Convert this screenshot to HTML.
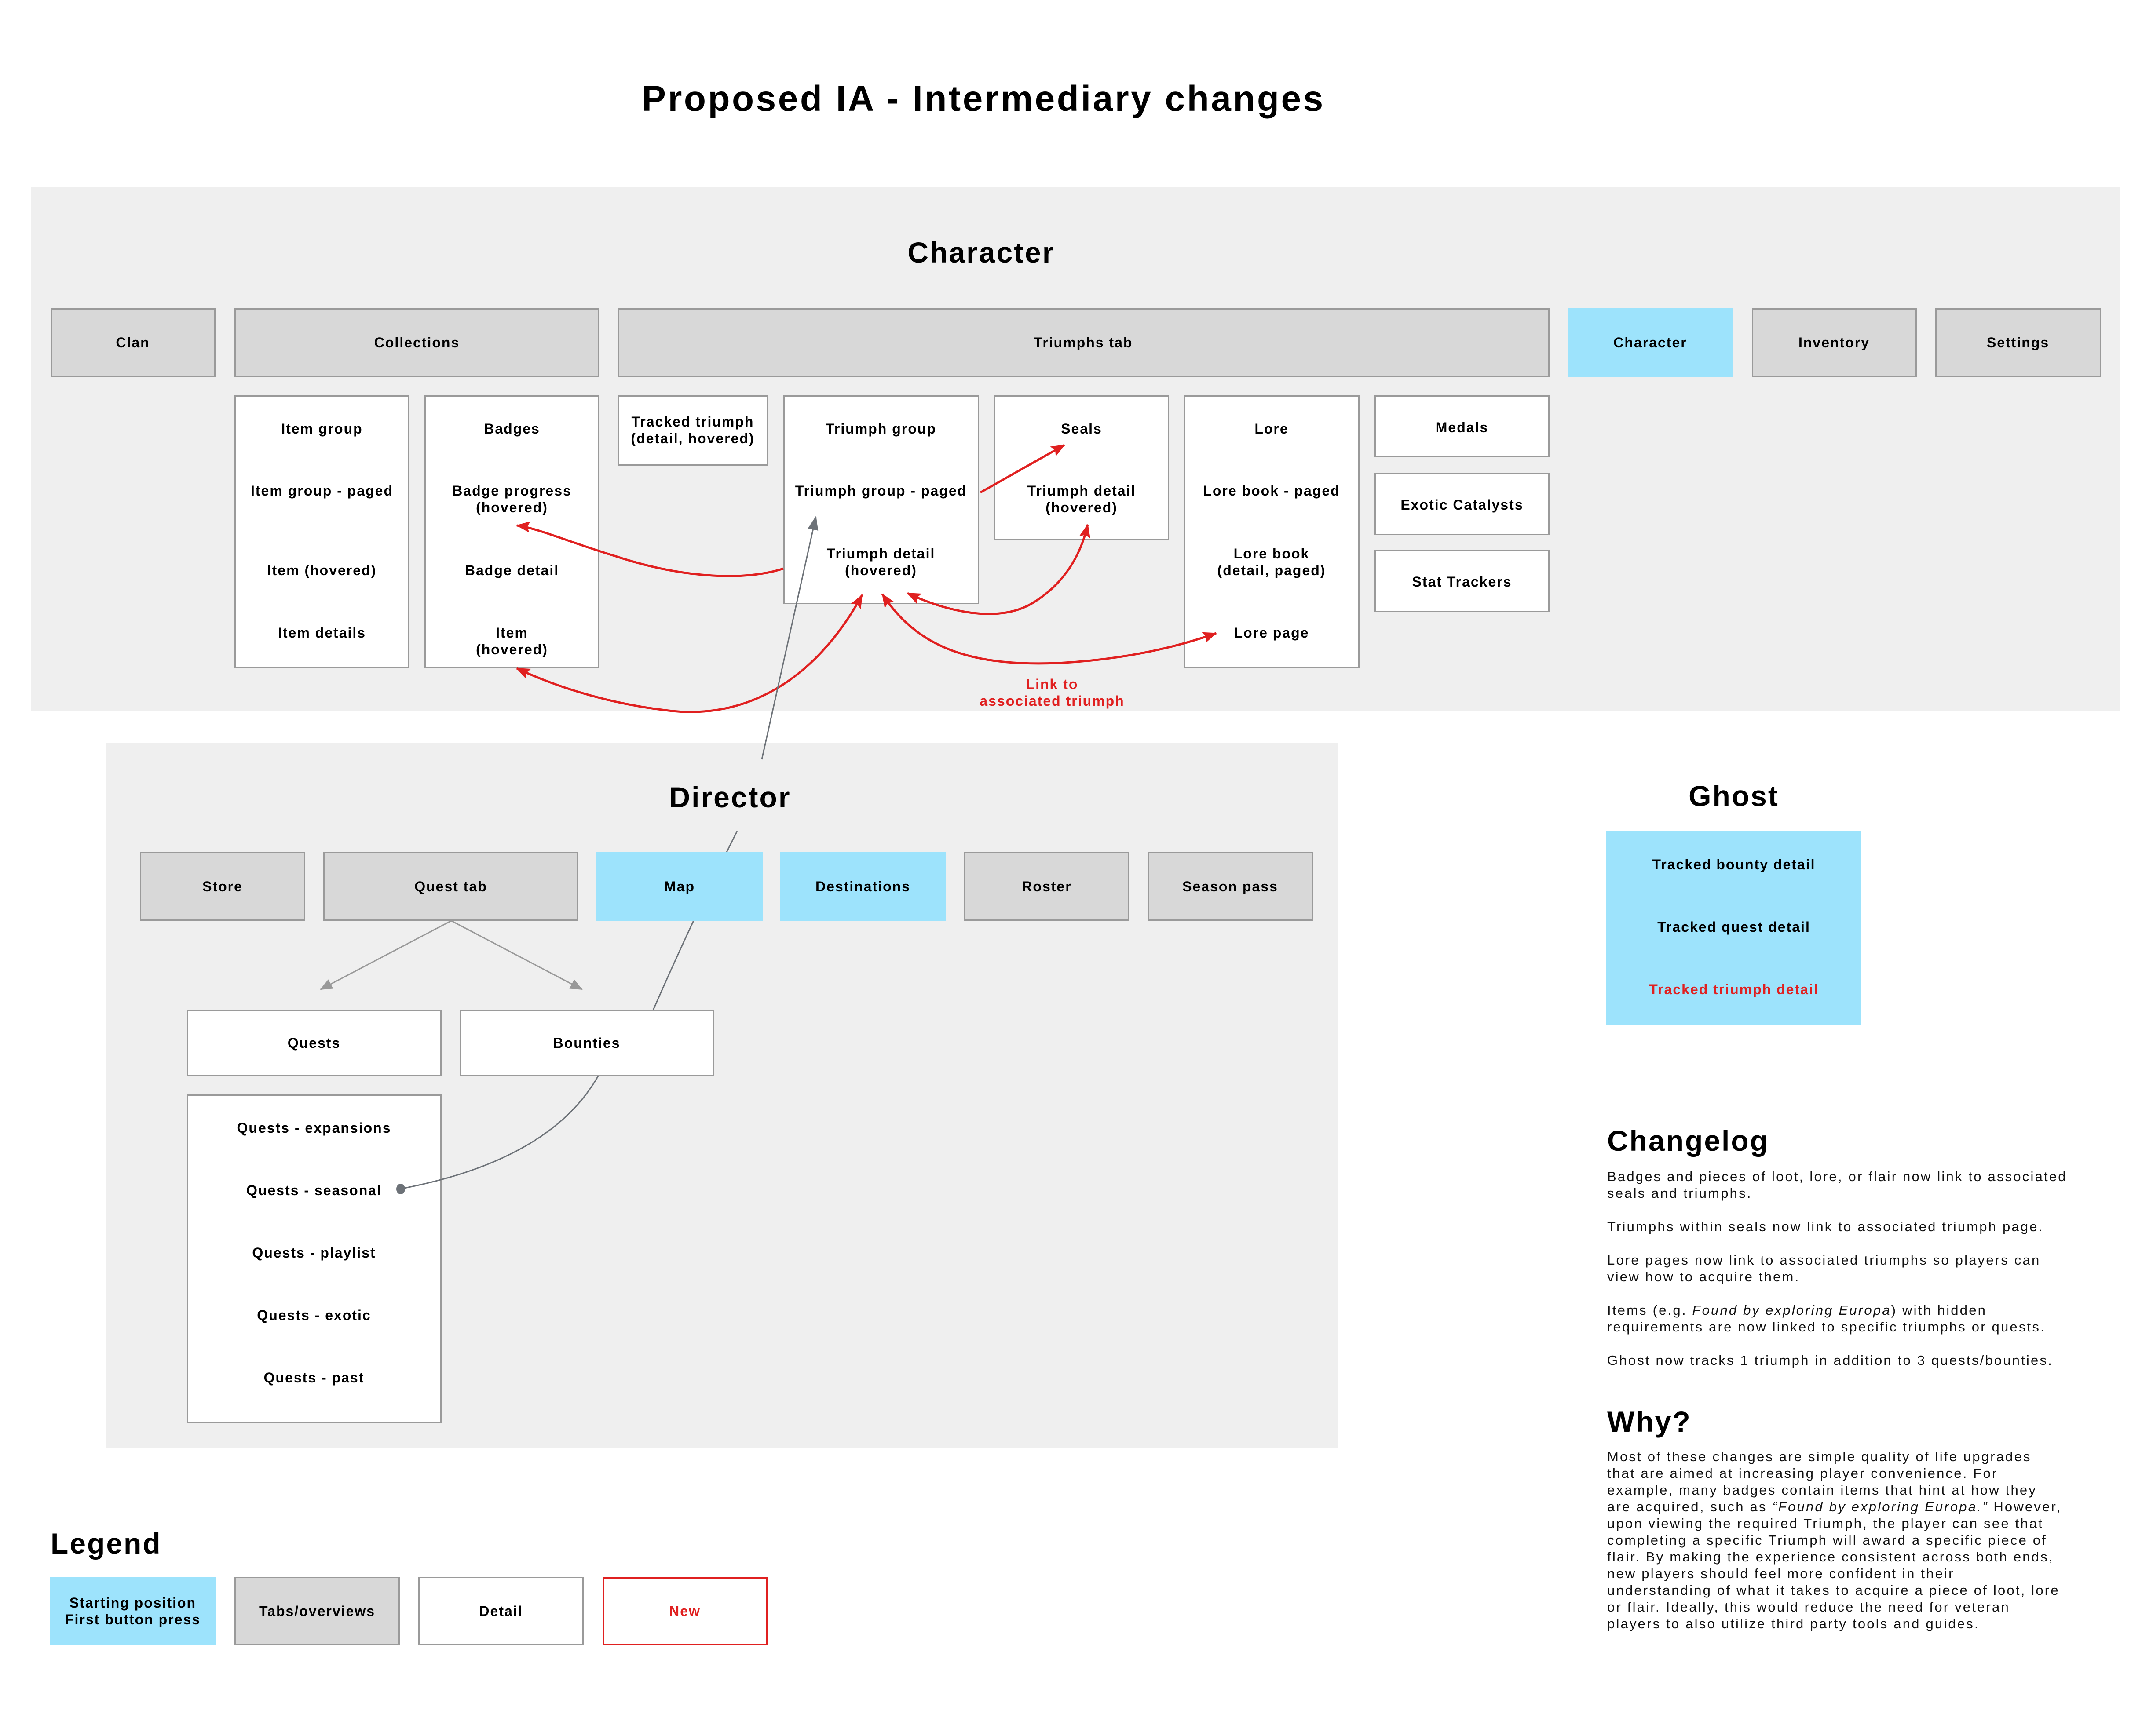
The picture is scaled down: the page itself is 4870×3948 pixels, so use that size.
<!DOCTYPE html>
<html><head><meta charset="utf-8">
<style>
html,body{margin:0;padding:0;background:#fff;}
body{width:4870px;height:3948px;position:relative;overflow:hidden;font-family:"Liberation Sans",sans-serif;}
.p{position:absolute;background:#efefef;}
.b{position:absolute;box-sizing:border-box;border:3px solid #9a9a9a;background:#fff;}
.g{background:#d8d8d8;}
.bl{background:#9de3fc;border:none;}
.t{position:absolute;transform:translate(-50%,-50%);text-align:center;white-space:nowrap;font-weight:bold;font-size:32px;line-height:38px;color:#000;letter-spacing:2px;}
.h{position:absolute;transform:translate(-50%,-50%);white-space:nowrap;font-weight:bold;font-size:66px;color:#000;letter-spacing:3px;}
.r{color:#e02020;}
.body{position:absolute;left:3654px;font-size:31px;line-height:38px;letter-spacing:3.2px;white-space:pre;color:#111;}
svg{position:absolute;left:0;top:0;}
</style></head><body>

<div class="h" style="left:2236px;top:225px;font-size:82px;letter-spacing:4.5px;">Proposed IA - Intermediary changes</div>

<!-- Character panel -->
<div class="p" style="left:70px;top:425px;width:4749px;height:1193px;"></div>
<div class="h" style="left:2231px;top:574px;">Character</div>

<!-- Director panel -->
<div class="p" style="left:241px;top:1690px;width:2800px;height:1604px;"></div>

<svg width="4870" height="3948" viewBox="0 0 4870 3948">
<defs>
<marker id="aq" markerUnits="userSpaceOnUse" markerWidth="30" markerHeight="30" refX="26" refY="12" orient="auto"><path d="M0,0 L28,12 L0,24 z" fill="#999"/></marker>
</defs>
<path d="M1485,2297 Q1580,2080 1676,1890" fill="none" stroke="#6d7278" stroke-width="3"/>
<line x1="1026" y1="2094" x2="729" y2="2250" stroke="#999" stroke-width="3" marker-end="url(#aq)"/>
<line x1="1026" y1="2094" x2="1323" y2="2250" stroke="#999" stroke-width="3" marker-end="url(#aq)"/>
</svg>

<!-- Character tabs -->
<div class="b g" style="left:115px;top:701px;width:375px;height:156px;"></div><div class="t" style="left:302px;top:779px;">Clan</div>
<div class="b g" style="left:533px;top:701px;width:830px;height:156px;"></div><div class="t" style="left:948px;top:779px;">Collections</div>
<div class="b g" style="left:1404px;top:701px;width:2119px;height:156px;"></div><div class="t" style="left:2463px;top:779px;">Triumphs tab</div>
<div class="b bl" style="left:3564px;top:701px;width:377px;height:156px;"></div><div class="t" style="left:3752px;top:779px;">Character</div>
<div class="b g" style="left:3983px;top:701px;width:375px;height:156px;"></div><div class="t" style="left:4170px;top:779px;">Inventory</div>
<div class="b g" style="left:4400px;top:701px;width:377px;height:156px;"></div><div class="t" style="left:4588px;top:779px;">Settings</div>

<!-- Character sub boxes -->
<div class="b" style="left:533px;top:899px;width:398px;height:621px;"></div>
<div class="t" style="left:732px;top:975px;">Item group</div>
<div class="t" style="left:732px;top:1116px;">Item group - paged</div>
<div class="t" style="left:732px;top:1297px;">Item (hovered)</div>
<div class="t" style="left:732px;top:1439px;">Item details</div>

<div class="b" style="left:965px;top:899px;width:398px;height:621px;"></div>
<div class="t" style="left:1164px;top:975px;">Badges</div>
<div class="t" style="left:1164px;top:1135px;">Badge progress<br>(hovered)</div>
<div class="t" style="left:1164px;top:1297px;">Badge detail</div>
<div class="t" style="left:1164px;top:1458px;">Item<br>(hovered)</div>

<div class="b" style="left:1404px;top:899px;width:343px;height:160px;"></div>
<div class="t" style="left:1575px;top:978px;">Tracked triumph<br>(detail, hovered)</div>

<div class="b" style="left:1781px;top:899px;width:445px;height:475px;"></div>
<div class="t" style="left:2003px;top:975px;">Triumph group</div>
<div class="t" style="left:2003px;top:1116px;">Triumph group - paged</div>
<div class="t" style="left:2003px;top:1278px;">Triumph detail<br>(hovered)</div>

<div class="b" style="left:2260px;top:899px;width:398px;height:329px;"></div>
<div class="t" style="left:2459px;top:975px;">Seals</div>
<div class="t" style="left:2459px;top:1135px;">Triumph detail<br>(hovered)</div>

<div class="b" style="left:2692px;top:899px;width:399px;height:621px;"></div>
<div class="t" style="left:2891px;top:975px;">Lore</div>
<div class="t" style="left:2891px;top:1116px;">Lore book - paged</div>
<div class="t" style="left:2891px;top:1278px;">Lore book<br>(detail, paged)</div>
<div class="t" style="left:2891px;top:1439px;">Lore page</div>

<div class="b" style="left:3125px;top:899px;width:398px;height:141px;"></div><div class="t" style="left:3324px;top:972px;">Medals</div>
<div class="b" style="left:3125px;top:1075px;width:398px;height:142px;"></div><div class="t" style="left:3324px;top:1148px;">Exotic Catalysts</div>
<div class="b" style="left:3125px;top:1251px;width:398px;height:141px;"></div><div class="t" style="left:3324px;top:1323px;">Stat Trackers</div>

<div class="t r" style="left:2392px;top:1575px;">Link to<br>associated triumph</div>

<!-- Director -->
<div class="h" style="left:1660px;top:1813px;">Director</div>
<div class="b g" style="left:318px;top:1938px;width:376px;height:156px;"></div><div class="t" style="left:506px;top:2016px;">Store</div>
<div class="b g" style="left:735px;top:1938px;width:580px;height:156px;"></div><div class="t" style="left:1025px;top:2016px;">Quest tab</div>
<div class="b bl" style="left:1356px;top:1938px;width:378px;height:156px;"></div><div class="t" style="left:1545px;top:2016px;">Map</div>
<div class="b bl" style="left:1773px;top:1938px;width:378px;height:156px;"></div><div class="t" style="left:1962px;top:2016px;">Destinations</div>
<div class="b g" style="left:2192px;top:1938px;width:376px;height:156px;"></div><div class="t" style="left:2380px;top:2016px;">Roster</div>
<div class="b g" style="left:2610px;top:1938px;width:375px;height:156px;"></div><div class="t" style="left:2797px;top:2016px;">Season pass</div>

<div class="b" style="left:425px;top:2297px;width:579px;height:150px;"></div><div class="t" style="left:714px;top:2372px;">Quests</div>
<div class="b" style="left:1046px;top:2297px;width:577px;height:150px;"></div><div class="t" style="left:1334px;top:2372px;">Bounties</div>

<div class="b" style="left:425px;top:2489px;width:579px;height:747px;"></div>
<div class="t" style="left:714px;top:2565px;">Quests - expansions</div>
<div class="t" style="left:714px;top:2707px;">Quests - seasonal</div>
<div class="t" style="left:714px;top:2849px;">Quests - playlist</div>
<div class="t" style="left:714px;top:2991px;">Quests - exotic</div>
<div class="t" style="left:714px;top:3133px;">Quests - past</div>

<!-- Ghost -->
<div class="h" style="left:3942px;top:1810px;">Ghost</div>
<div class="b bl" style="left:3652px;top:1890px;width:580px;height:442px;"></div>
<div class="t" style="left:3942px;top:1966px;">Tracked bounty detail</div>
<div class="t" style="left:3942px;top:2108px;">Tracked quest detail</div>
<div class="t r" style="left:3942px;top:2250px;">Tracked triumph detail</div>

<!-- Changelog -->
<div class="h" style="left:3654px;top:2594px;transform:translate(0,-50%);">Changelog</div>
<div class="body" style="top:2657px;">Badges and pieces of loot, lore, or flair now link to associated
seals and triumphs.

Triumphs within seals now link to associated triumph page.

Lore pages now link to associated triumphs so players can
view how to acquire them.

Items (e.g. <i>Found by exploring Europa</i>) with hidden
requirements are now linked to specific triumphs or quests.

Ghost now tracks 1 triumph in addition to 3 quests/bounties.</div>

<div class="h" style="left:3654px;top:3233px;transform:translate(0,-50%);">Why?</div>
<div class="body" style="top:3294px;">Most of these changes are simple quality of life upgrades
that are aimed at increasing player convenience. For
example, many badges contain items that hint at how they
are acquired, such as <i>“Found by exploring Europa.”</i> However,
upon viewing the required Triumph, the player can see that
completing a specific Triumph will award a specific piece of
flair. By making the experience consistent across both ends,
new players should feel more confident in their
understanding of what it takes to acquire a piece of loot, lore
or flair. Ideally, this would reduce the need for veteran
players to also utilize third party tools and guides.</div>

<!-- Legend -->
<div class="h" style="left:115px;top:3510px;transform:translate(0,-50%);">Legend</div>
<div class="b bl" style="left:114px;top:3586px;width:377px;height:156px;"></div><div class="t" style="left:302px;top:3664px;">Starting position<br>First button press</div>
<div class="b g" style="left:533px;top:3586px;width:376px;height:156px;"></div><div class="t" style="left:721px;top:3664px;">Tabs/overviews</div>
<div class="b" style="left:951px;top:3586px;width:376px;height:156px;"></div><div class="t" style="left:1139px;top:3664px;">Detail</div>
<div class="b" style="left:1370px;top:3586px;width:375px;height:156px;border:4px solid #e02020;"></div><div class="t r" style="left:1557px;top:3664px;">New</div>

<!-- Top overlay connectors -->
<svg width="4870" height="3948" viewBox="0 0 4870 3948">
<defs>
<marker id="ar" markerUnits="userSpaceOnUse" markerWidth="34" markerHeight="34" refX="30" refY="13" orient="auto-start-reverse"><path d="M0,0 L32,13 L0,26 L6,13 z" fill="#e02020"/></marker>
<marker id="ag2" markerUnits="userSpaceOnUse" markerWidth="34" markerHeight="34" refX="30" refY="12" orient="auto"><path d="M0,0 L32,12 L0,24 z" fill="#6d7278"/></marker>
</defs>
<g fill="none" stroke="#e02020" stroke-width="5">
<line x1="2229" y1="1120" x2="2420" y2="1012" marker-end="url(#ar)"/>
<path d="M1781,1293 C1700,1320 1560,1318 1400,1265 C1300,1235 1220,1200 1175,1195" marker-end="url(#ar)"/>
<path d="M1960,1353 C1870,1520 1720,1640 1520,1616 C1380,1600 1260,1560 1175,1520" marker-start="url(#ar)" marker-end="url(#ar)"/>
<path d="M2063,1349 C2150,1390 2270,1420 2350,1370 C2430,1320 2460,1250 2473,1193" marker-start="url(#ar)" marker-end="url(#ar)"/>
<path d="M2006,1351 C2090,1480 2220,1515 2404,1508 C2560,1500 2680,1470 2765,1440" marker-start="url(#ar)" marker-end="url(#ar)"/>
</g>
<line x1="1732" y1="1727" x2="1855" y2="1175" stroke="#6d7278" stroke-width="3" marker-end="url(#ag2)"/>
<path d="M1360,2447 Q1250,2640 909,2704" fill="none" stroke="#6d7278" stroke-width="3"/>
<ellipse cx="911" cy="2704" rx="10" ry="12" fill="#6d7278"/>
</svg>
</body></html>
